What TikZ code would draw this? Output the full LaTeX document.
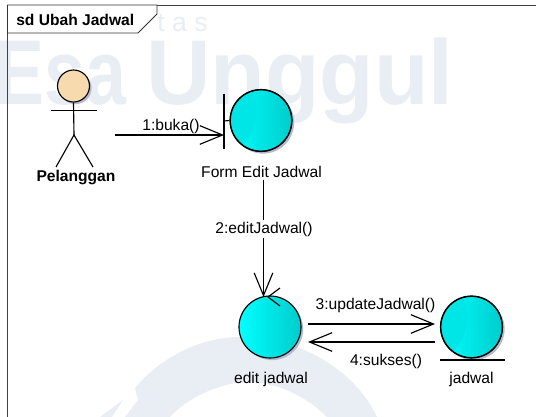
\documentclass[tikz,border=0pt]{standalone}
\usepackage{fontspec}
\setmainfont{Liberation Sans}
\usetikzlibrary{arrows.meta,shadows}
\definecolor{wm}{HTML}{E9EEF5}
\definecolor{cy}{HTML}{00FFFF}
\definecolor{cym}{HTML}{00F6F6}
\definecolor{cyd}{HTML}{00CCCC}
\definecolor{cyl}{HTML}{00E6E6}
\definecolor{skin}{HTML}{F7DBAE}
\definecolor{shad}{HTML}{B4BBD0}
\tikzset{
  lbl/.style={font=\fontsize{11.7}{13}\selectfont,inner sep=0pt},
  blbl/.style={font=\bfseries\fontsize{11.7}{13}\selectfont,inner sep=0pt},
  ln/.style={line width=0.85pt,black},
  opn/.style={ln,-{Straight Barb[length=17pt,width=14pt,line width=0.85pt]}},
  shd/.style={drop shadow={shadow xshift=1.6pt,shadow yshift=-1.6pt,fill=shad,opacity=1}},
  ball/.style={circle,minimum size=46.5pt,inner sep=0pt,draw=black,line width=0.85pt,left color=cy,middle color=cym,right color=cyd,shd},
}
\newcommand{\crescentball}[1]{%
  \begin{scope}[shift={(#1.center)}]
    \clip (0,0) circle (23pt);
    \fill[cyl] (-11,-33) .. controls (-1,-20) and (-1,10) .. (-21,27) -- (-33,27) -- (-33,-33) -- cycle;
  \end{scope}
  \draw[ln] (#1.center) circle (23pt);
}
\begin{document}
\begin{tikzpicture}[x=0.75pt,y=-0.75pt]
\useasboundingbox (0,0) rectangle (536,417);
\fill[white] (0,0) rectangle (536,417);
% watermark
\node[wm,font=\bfseries\fontsize{69}{69}\selectfont,anchor=base west,inner sep=0pt] (wmesa) at (-5,105) {\scalebox{0.8}[1]{Esa}};
\node[wm,font=\bfseries\fontsize{69}{69}\selectfont,anchor=base west,inner sep=0pt] (wmung) at (146,105) {\scalebox{0.97}[1]{Unggul}};
\node[wm,font=\fontsize{20}{20}\selectfont,anchor=base west,inner sep=0pt] (wmtas) at (157,32) {t a s};
\fill[wm] (135,388) .. controls (160,358) and (200,337) .. (240,337) .. controls (300,337) and (355,370) .. (377,417) -- (327,417) .. controls (305,395) and (275,382) .. (247,382) .. controls (225,382) and (190,395) .. (170,417) -- (125,417) -- (138,400) -- cycle;
\fill[wm] (100,417) -- (123,400) -- (112,417) -- cycle;
% frame
\coordinate (fa) at (7.5,5);
\coordinate (fb) at (536,5);
\coordinate (fd) at (7.5,417);
\draw[line width=0.7pt,draw=black!75] (fd) -- (fa) -- (fb);
\coordinate (ta) at (157,5);
\coordinate (tb) at (157,14);
\coordinate (tc) at (138,33);
\coordinate (td) at (7.5,33);
\draw[fill=white,line width=0.7pt,draw=black!80] (fa) -- (ta) -- (tb) -- (tc) -- (td) -- cycle;
\node[blbl,anchor=west] (title) at (16,20) {sd Ubah Jadwal};
% actor
\node[circle,minimum size=24pt,inner sep=0pt,draw=black,line width=0.85pt,fill=skin,shd] (head) at (73.5,86) {};
\coordinate (hip) at (74,135);
\coordinate (armL) at (51,110.5);
\coordinate (armR) at (97,110.5);
\coordinate (legL) at (56,167);
\coordinate (legR) at (93,167);
\draw[ln] (head.south) -- (hip);
\draw[ln] (armL) -- (armR);
\draw[ln] (legL) -- (hip) -- (legR);
\node[blbl] (pel) at (76,178) {Pelanggan};
% form boundary
\node[ball] (form) at (261,120.5) {};
\crescentball{form}
\coordinate (barT) at (224,94);
\coordinate (barB) at (224,149);
\coordinate (barM) at (224,121);
\draw[ln] (barT) -- (barB);
\draw[ln] (barM) -- (form.west);
\node[lbl] (formlbl) at (261.5,172) {Form Edit Jadwal};
% edit control
\node[ball] (edit) at (270,327) {};
\node[lbl] (editlbl) at (271,379) {edit jadwal};
\coordinate (ct1) at (280,288);
\coordinate (ct2) at (268,297);
\coordinate (ct3) at (280,306);
\draw[ln] (ct1) -- (ct2) -- (ct3);
% jadwal entity
\node[ball] (jad) at (471.5,327) {};
\crescentball{jad}
\coordinate (ulL) at (440,360);
\coordinate (ulR) at (505,360);
\draw[ln] (ulL) -- (ulR);
\node[lbl] (jadlbl) at (471.5,379) {jadwal};
% connectors
\coordinate (a1s) at (115,135);
\coordinate (a1e) at (224,135);
\draw[opn] (a1s) -- (a1e);
\node[lbl] (m1) at (171,126) {1:buka()};
\coordinate (a2s) at (263.5,180);
\coordinate (a2e) at (263.5,297);
\draw[opn] (a2s) -- (a2e);
\node[lbl,fill=white,inner sep=1pt] (m2) at (264,229) {2:editJadwal()};
\coordinate (a3s) at (308,324);
\coordinate (a3e) at (435,324);
\draw[opn] (a3s) -- (a3e);
\node[lbl] (m3) at (375.5,305) {3:updateJadwal()};
\coordinate (a4s) at (435,342);
\coordinate (a4e) at (308,342);
\draw[opn] (a4s) -- (a4e);
\node[lbl] (m4) at (386,361) {4:sukses()};
\end{tikzpicture}
\end{document}
